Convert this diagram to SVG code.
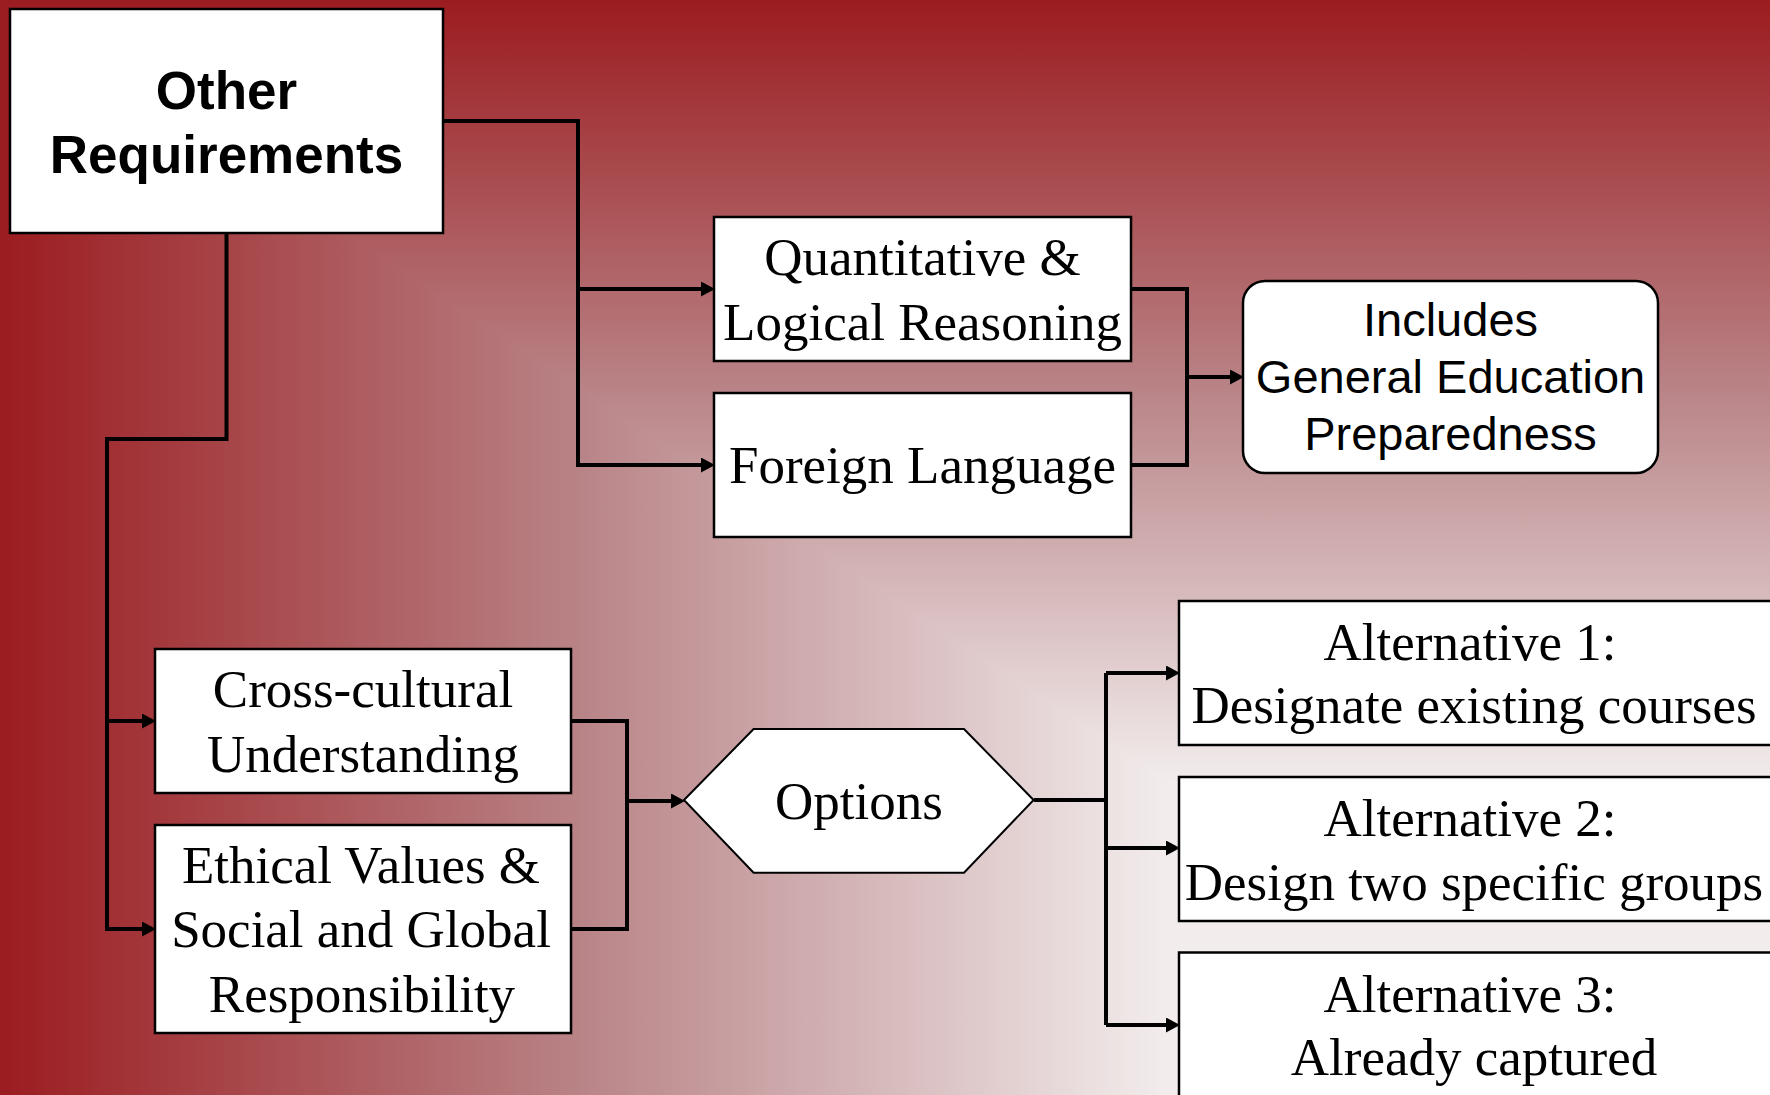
<svg xmlns="http://www.w3.org/2000/svg" width="1770" height="1095" viewBox="0 0 1770 1095">
<defs>
<linearGradient id="gx" gradientUnits="userSpaceOnUse" x1="0" y1="0" x2="1165" y2="0">
<stop offset="0" stop-color="#9b1c20"/>
<stop offset="0.5" stop-color="#b98487"/>
<stop offset="1" stop-color="#f2ecec"/>
</linearGradient>
<linearGradient id="gy" gradientUnits="userSpaceOnUse" x1="0" y1="0" x2="0" y2="781">
<stop offset="0" stop-color="#9b1c20"/>
<stop offset="0.5" stop-color="#b98487"/>
<stop offset="1" stop-color="#f2ecec"/>
</linearGradient>
<marker id="arr" markerUnits="userSpaceOnUse" markerWidth="15" markerHeight="15" refX="7" refY="7.5" orient="auto">
<path d="M0,0 L14,7.5 L0,15 z" fill="#000"/>
</marker>
<style>
.box{fill:#fff;stroke:#000;stroke-width:2.5}
.con{fill:none;stroke:#000;stroke-width:4}
.serif{font-family:"Liberation Serif","Times New Roman",serif;font-size:53px;fill:#000;text-anchor:middle}
.sans{font-family:"Liberation Sans",Arial,sans-serif;font-size:47px;fill:#000;text-anchor:middle}
.bold{font-family:"Liberation Sans",Arial,sans-serif;font-size:53px;font-weight:bold;fill:#000;text-anchor:middle}
</style>
</defs>
<g id="background">
<rect x="0" y="0" width="1770" height="1095" fill="url(#gx)"/>
<polygon points="0,0 1770,0 1770,781 1165,781" fill="url(#gy)"/>
</g>
<g id="connectors">
<path class="con" d="M443,121 H578 V465 H708"/>
<path class="con" d="M578,289 H708" marker-end="url(#arr)"/>
<path class="con" d="M578,465 H708" marker-end="url(#arr)"/>
<path class="con" d="M226.5,233 V439 H107 V929 H149" marker-end="url(#arr)"/>
<path class="con" d="M107,721 H149" marker-end="url(#arr)"/>
<path class="con" d="M1131,289 H1187 V465 H1131"/>
<path class="con" d="M1187,377 H1237" marker-end="url(#arr)"/>
<path class="con" d="M571,721 H627 V929 H571"/>
<path class="con" d="M627,801 H678" marker-end="url(#arr)"/>
<path class="con" d="M1034,800 H1106"/>
<path class="con" d="M1106,673 V1025"/>
<path class="con" d="M1106,673 H1173" marker-end="url(#arr)"/>
<path class="con" d="M1106,848 H1173" marker-end="url(#arr)"/>
<path class="con" d="M1106,1025 H1173" marker-end="url(#arr)"/>
</g>
<g id="other-requirements">
<rect class="box" x="10" y="9" width="433" height="224"/>
<text class="bold" x="226.5" y="109">Other</text>
<text class="bold" x="226.5" y="173">Requirements</text>
</g>
<g id="quantitative">
<rect class="box" x="714" y="217" width="417" height="144"/>
<text class="serif" x="922.5" y="275">Quantitative &amp;</text>
<text class="serif" x="922.5" y="340">Logical Reasoning</text>
</g>
<g id="foreign-language">
<rect class="box" x="714" y="393" width="417" height="144"/>
<text class="serif" x="922.5" y="483">Foreign Language</text>
</g>
<g id="includes">
<rect class="box" x="1243" y="281" width="415" height="192" rx="22"/>
<text class="sans" x="1450.5" y="336">Includes</text>
<text class="sans" x="1450.5" y="393">General Education</text>
<text class="sans" x="1450.5" y="450">Preparedness</text>
</g>
<g id="cross-cultural">
<rect class="box" x="155" y="649" width="416" height="144"/>
<text class="serif" x="363" y="707">Cross-cultural</text>
<text class="serif" x="363" y="772">Understanding</text>
</g>
<g id="ethical">
<rect class="box" x="155" y="825" width="416" height="208"/>
<text class="serif" x="361" y="883">Ethical Values &amp;</text>
<text class="serif" x="361" y="947">Social and Global</text>
<text class="serif" x="362" y="1012">Responsibility</text>
</g>
<g id="options">
<polygon points="684,800 753.6,729 964,729 1033.6,800 964,872.7 753.6,872.7" fill="#fff" stroke="#000" stroke-width="2"/>
<text class="serif" x="859" y="819">Options</text>
</g>
<g id="alternative-1">
<rect class="box" x="1179" y="601" width="640" height="144"/>
<text class="serif" x="1470" y="660">Alternative 1:</text>
<text class="serif" x="1474" y="723">Designate existing courses</text>
</g>
<g id="alternative-2">
<rect class="box" x="1179" y="777" width="640" height="144"/>
<text class="serif" x="1470" y="836">Alternative 2:</text>
<text class="serif" x="1474" y="900">Design two specific groups</text>
</g>
<g id="alternative-3">
<rect class="box" x="1179" y="952.5" width="640" height="200"/>
<text class="serif" x="1470" y="1012">Alternative 3:</text>
<text class="serif" x="1474" y="1075">Already captured</text>
</g>
</svg>
